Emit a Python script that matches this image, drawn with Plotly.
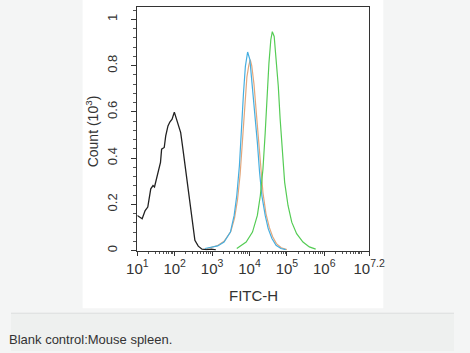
import plotly.graph_objects as go

W, H = 470, 353

# ---- data (log10 FITC-H position, count in 10^3) ----
black_lx = [1.00, 1.13, 1.21, 1.28, 1.36, 1.42, 1.46, 1.53, 1.62, 1.65, 1.72, 1.76, 1.82, 1.87, 1.93, 1.99,
            2.04, 2.10, 2.16, 2.22, 2.29, 2.35, 2.41, 2.48, 2.54, 2.63, 2.73, 2.86, 2.98, 3.10]
black_y = [0.152, 0.138, 0.173, 0.188, 0.267, 0.281, 0.275, 0.324, 0.381, 0.439, 0.446, 0.496, 0.539, 0.556, 0.568, 0.599,
           0.575, 0.546, 0.510, 0.439, 0.353, 0.267, 0.181, 0.095, 0.044, 0.019, 0.006, 0.004, 0.006, 0.003]

blue_lx = [2.81, 3.15, 3.32, 3.49, 3.59, 3.66, 3.73, 3.78, 3.84, 3.89, 3.95, 4.01, 4.08, 4.15, 4.21, 4.27,
           4.33, 4.42, 4.50, 4.60, 4.71, 4.84, 4.97]
blue_y = [0.009, 0.020, 0.037, 0.080, 0.152, 0.238, 0.367, 0.525, 0.683, 0.797, 0.859, 0.826, 0.711, 0.597, 0.468, 0.338,
          0.238, 0.152, 0.095, 0.052, 0.023, 0.009, 0.004]

orange_lx = [2.85, 3.15, 3.32, 3.50, 3.60, 3.68, 3.75, 3.82, 3.88, 3.93, 3.98, 4.02, 4.06, 4.12, 4.18, 4.24,
             4.30, 4.36, 4.44, 4.53, 4.62, 4.72, 4.85, 5.00]
orange_y = [0.008, 0.022, 0.040, 0.082, 0.140, 0.220, 0.330, 0.480, 0.630, 0.750, 0.800, 0.826, 0.800, 0.720, 0.600, 0.470,
            0.350, 0.250, 0.160, 0.100, 0.060, 0.030, 0.012, 0.004]

green_lx = [3.66, 3.91, 4.08, 4.21, 4.29, 4.36, 4.42, 4.47, 4.52, 4.57, 4.61, 4.66, 4.71, 4.77, 4.82, 4.88,
            4.94, 5.03, 5.13, 5.26, 5.43, 5.60, 5.77]
green_y = [0.009, 0.037, 0.080, 0.152, 0.238, 0.353, 0.510, 0.668, 0.811, 0.912, 0.947, 0.926, 0.840, 0.711, 0.568, 0.425,
           0.295, 0.195, 0.123, 0.073, 0.037, 0.016, 0.006]

x_tick_exp = [1, 2, 3, 4, 5, 6, 7.2]
x_tick_text = ["10<sup>1</sup>", "10<sup>2</sup>", "10<sup>3</sup>", "10<sup>4</sup>",
               "10<sup>5</sup>", "10<sup>6</sup>", "10<sup>7.2</sup>"]
y_ticks = [0, 0.2, 0.4, 0.6, 0.8, 1]
y_tick_text = ["0", "0.2", "0.4", "0.6", "0.8", "1"]

caption = "Blank control:Mouse spleen."

fig = go.Figure()

def add(lx, y, color, width=1.2):
    fig.add_trace(go.Scatter(x=[10 ** v for v in lx], y=y, mode="lines",
                             line=dict(color=color, width=width), showlegend=False,
                             hoverinfo="skip"))

add(black_lx, black_y, "#222222", 1.3)
add(orange_lx, orange_y, "#e3a77c")
add(blue_lx, blue_y, "#45aee0")
add(green_lx, green_y, "#55cc55")

# plot area in pixels
x0, x1 = 134, 380
y_top, y_bot = 7, 252

fig.update_layout(
    width=W, height=H,
    margin=dict(l=0, r=0, t=0, b=0, pad=0),
    paper_bgcolor="#f4f5f5",
    plot_bgcolor="white",
    font=dict(family="Liberation Sans, Arial, sans-serif", color="#333333"),
    title=dict(text=caption, xref="container", yref="container",
               x=9 / W, y=1 - 339 / H, xanchor="left", yanchor="middle",
               font=dict(size=13, color="#333")),
    shapes=[
        dict(type="rect", xref="paper", yref="paper", x0=76 / W, x1=395 / W, y0=1 - 310 / H, y1=1,
             fillcolor="white", line=dict(width=0), layer="below"),
        dict(type="rect", xref="paper", yref="paper", x0=0, x1=1, y0=0, y1=1 - 315 / H,
             fillcolor="#eef0ef", line=dict(width=0), layer="below"),
        dict(type="line", xref="paper", yref="paper", x0=0, x1=1, y0=1 - 315 / H, y1=1 - 315 / H,
             line=dict(color="#dcdedd", width=1), layer="below"),
    ],
    xaxis=dict(
        type="log", range=[1, 7.2], domain=[x0 / W, x1 / W],
        tickvals=[10 ** e for e in x_tick_exp], ticktext=x_tick_text,
        ticks="outside", ticklen=4, tickwidth=1, tickcolor="#333",
        showline=True, linecolor="#333", linewidth=1, mirror=True,
        showgrid=False, zeroline=False,
        tickfont=dict(size=15, color="#333"),
        minor=dict(ticks="outside", ticklen=2, tickcolor="#555", dtick="D1", showgrid=False),
    ),
    yaxis=dict(
        range=[0, (y_bot - y_top) / 232.5], domain=[1 - y_bot / H, 1 - y_top / H],
        tickvals=y_ticks, ticktext=y_tick_text, tickangle=-90,
        ticks="outside", ticklen=5, tickwidth=1, tickcolor="#333",
        ticklabelstandoff=9,
        showline=True, linecolor="#333", linewidth=1, mirror=True,
        showgrid=False, zeroline=False,
        tickfont=dict(size=13, color="#333"),
        minor=dict(ticks="outside", ticklen=3, tickcolor="#555", dtick=0.04, showgrid=False),
    ),
    annotations=[
        dict(text="Count (10<sup>3</sup>)", xref="paper", yref="paper",
             x=86 / W, y=1 - 132 / H, textangle=-90, showarrow=False,
             font=dict(size=14, color="#333"), xanchor="center", yanchor="middle"),
        dict(text="FITC-H", xref="paper", yref="paper",
             x=257 / W, y=1 - 297 / H, showarrow=False,
             font=dict(size=15, color="#333"), xanchor="center", yanchor="middle"),
    ],
)

fig.write_html("out.html")
